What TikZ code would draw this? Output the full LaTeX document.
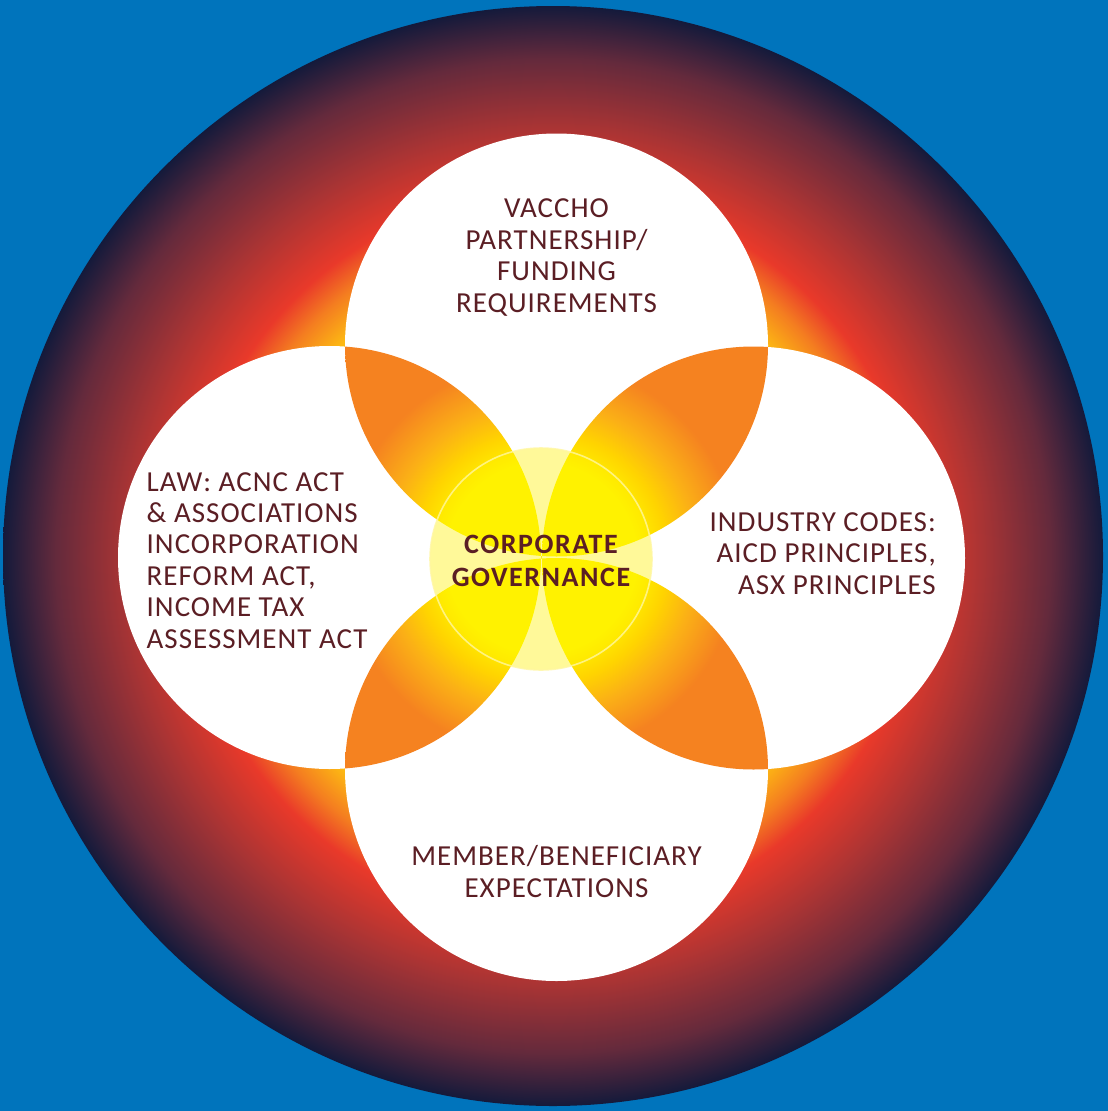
\documentclass[tikz,border=0pt]{standalone}
\usepackage{fontspec}
\setmainfont{Carlito}
\newfontfamily\labelfont[LetterSpace=3.5]{Carlito}
\newfontfamily\corefont[LetterSpace=5.5]{Carlito}

% palette
\definecolor{bgblue}{RGB}{0,116,188}
\definecolor{haloyellow}{RGB}{255,226,0}
\definecolor{haloamber}{RGB}{253,185,19}
\definecolor{haloorange}{RGB}{244,125,32}
\definecolor{halored}{RGB}{233,57,42}
\definecolor{halorust}{RGB}{169,52,52}
\definecolor{haloplum}{RGB}{100,42,60}
\definecolor{halonavy}{RGB}{20,26,59}
\definecolor{lensyellow}{RGB}{255,242,0}
\definecolor{lensgold}{RGB}{255,212,0}
\definecolor{lensamber}{RGB}{251,176,22}
\definecolor{lensorange}{RGB}{245,130,32}
\definecolor{coreyellow}{RGB}{255,242,0}
\definecolor{corerim}{RGB}{255,247,160}
\definecolor{labelink}{RGB}{91,30,36}

% outer halo: 25bp corresponds to the rim of the big disc
\pgfdeclareradialshading{haloshade}{\pgfpoint{0bp}{0bp}}{%
  color(0bp)=(haloyellow); color(10bp)=(haloamber); color(13.6bp)=(haloamber);
  color(15.2bp)=(haloorange); color(16.6bp)=(halored); color(19.5bp)=(halorust);
  color(22.6bp)=(haloplum); color(25bp)=(halonavy); color(50bp)=(halonavy)}

% overlaps: yellow at the hub fading to orange at the tips (25bp = 340pt)
\pgfdeclareradialshading{lensshade}{\pgfpoint{0bp}{0bp}}{%
  color(0bp)=(lensyellow); color(7.06bp)=(lensyellow); color(9.26bp)=(lensgold);
  color(11.47bp)=(lensamber); color(14.56bp)=(lensorange); color(50bp)=(lensorange)}

\tikzset{
  petal/.style={fill=white},
  sidelabel/.style={text=labelink, inner sep=0pt,
    font=\labelfont\fontsize{29}{31.4}\selectfont},
  corelabel/.style={text=labelink, inner sep=0pt,
    font=\corefont\bfseries\fontsize{28}{33}\selectfont},
}

\begin{document}
\begin{tikzpicture}[x=1pt,y=-1pt]
  \useasboundingbox (0,0) rectangle (1108,1111);
  \fill[bgblue] (0,0) rectangle (1108,1111);

  % halo disc
  \coordinate (halo) at (553,556);
  \shade[shading=haloshade] (halo) circle (550pt);

  % the four circles
  \coordinate (ct) at (556.5,345);
  \coordinate (cb) at (556.5,769.5);
  \coordinate (cl) at (329.5,557.5);
  \coordinate (cr) at (753.5,558);
  \coordinate (core) at (541,558);
  \foreach \c in {ct,cb,cl,cr}
    \fill[petal] (\c) circle (211.5pt);

  % overlaps of neighbouring circles
  \foreach \a/\b in {ct/cl,ct/cr,cb/cl,cb/cr}{
    \begin{scope}
      \clip (\a) circle (211.5pt);
      \clip (\b) circle (211.5pt);
      \shade[shading=lensshade] (core) circle (340pt);
    \end{scope}
  }

  % central disc
  \fill[coreyellow, fill opacity=0.4] (541,559) circle (111pt);
  \draw[corerim, line width=1.6pt, opacity=0.8] (541,559) circle (111pt);

  % labels (anchored on the baseline of their last line)
  \node[sidelabel, anchor=base, align=center] (funding) at (556.5,312)
    {VACCHO\\PARTNERSHIP/\\FUNDING\\REQUIREMENTS};
  \node[sidelabel, anchor=base west, align=left] (law) at (146.5,648)
    {LAW: ACNC ACT\\\&{} ASSOCIATIONS\\INCORPORATION\\REFORM ACT,\\INCOME TAX\\ASSESSMENT ACT};
  \node[sidelabel, anchor=base east, align=right] (codes) at (936,594)
    {INDUSTRY CODES:\\AICD PRINCIPLES,\\ASX PRINCIPLES};
  \node[sidelabel, anchor=base, align=center] (members) at (556.5,897)
    {MEMBER/BENEFICIARY\\EXPECTATIONS};
  \node[corelabel, anchor=base, align=center] (governance) at (541,586)
    {CORPORATE\\GOVERNANCE};
\end{tikzpicture}
\end{document}
